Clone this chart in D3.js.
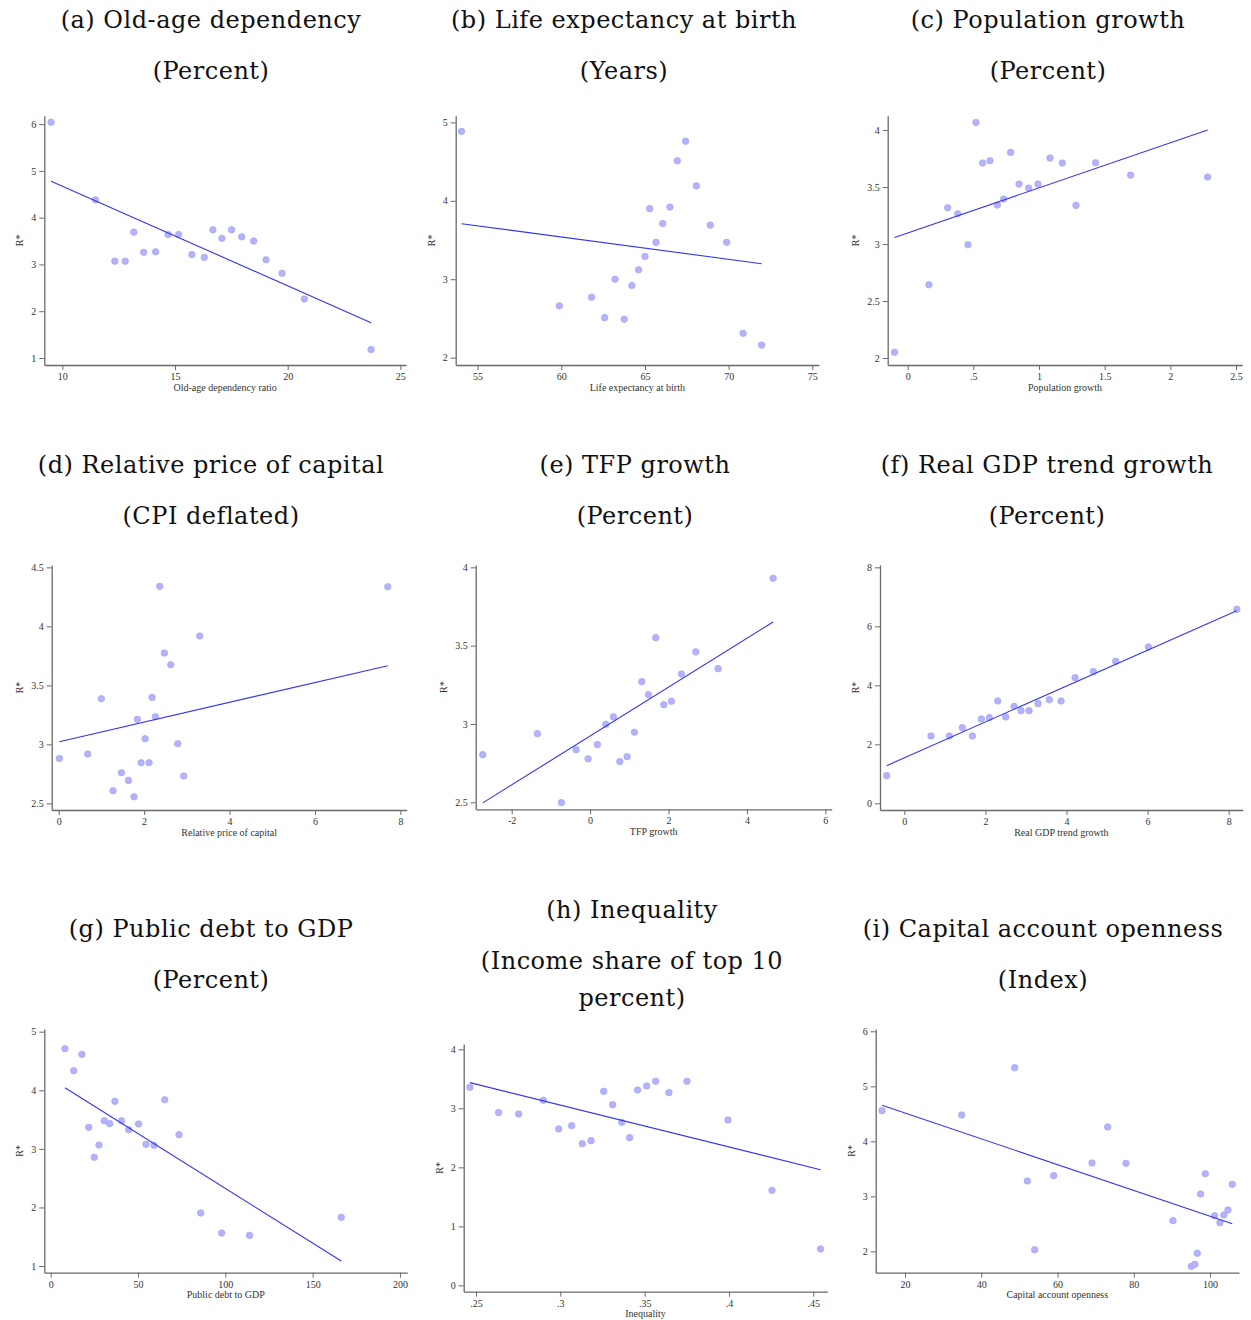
<!DOCTYPE html>
<html><head><meta charset="utf-8">
<script src="https://cdn.jsdelivr.net/npm/d3@7"></script>
<style>body{margin:0;background:#fff} svg{display:block}</style>
</head><body><svg id="chart" width="1251" height="1320"></svg>
<script>
// ---------- DATA ----------
const A_x = [9.50,11.47,12.33,12.79,13.17,13.61,14.14,14.69,15.16,15.75,16.30,16.68,17.08,17.51,17.96,18.49,19.04,19.75,20.74,23.70];
const A_y = [6.04,4.38,3.07,3.07,3.69,3.26,3.27,3.64,3.64,3.21,3.15,3.74,3.56,3.74,3.59,3.50,3.10,2.81,2.26,1.18];
const A_fit = [[9.50,4.78],[23.70,1.755]];
const A_xTicks = [10,15,20,25], A_yTicks = [1,2,3,4,5,6];
const A_xDomain = [9.2,25.25], A_yDomain = [0.85,6.18];

const B_x = [54.04,59.88,61.81,62.59,63.21,63.76,64.22,64.62,65.0,65.28,65.66,66.06,66.49,66.93,67.43,68.07,68.90,69.88,70.86,71.97];
const B_y = [4.885,2.66,2.77,2.51,3.00,2.49,2.92,3.12,3.29,3.90,3.47,3.71,3.92,4.51,4.76,4.19,3.69,3.47,2.31,2.16];
const B_fit = [[54.04,3.708],[71.97,3.198]];
const B_xTicks = [55,60,65,70,75], B_yTicks = [2,3,4,5];
const B_xDomain = [53.69,75.4], B_yDomain = [1.906,5.085];

const C_x = [-0.10,0.162,0.305,0.381,0.459,0.520,0.571,0.627,0.683,0.731,0.784,0.848,0.921,0.992,1.084,1.178,1.282,1.431,1.698,2.284];
const C_y = [2.05,2.643,3.319,3.266,2.994,4.067,3.711,3.731,3.342,3.395,3.804,3.526,3.491,3.526,3.754,3.711,3.339,3.713,3.605,3.588];
const C_fit = [[-0.10,3.058],[2.284,4.0]];
const C_xTicks = [0,0.5,1,1.5,2,2.5], C_yTicks = [2,2.5,3,3.5,4];
const C_xDomain = [-0.152,2.548], C_yDomain = [1.939,4.126];

const D_x = [0.016,0.679,0.999,1.272,1.468,1.632,1.764,1.842,1.928,2.022,2.115,2.186,2.264,2.365,2.475,2.623,2.787,2.927,3.302,7.705];
const D_y = [2.881,2.918,3.387,2.607,2.760,2.695,2.556,3.212,2.845,3.048,2.845,3.398,3.234,4.339,3.774,3.675,3.006,2.732,3.918,4.336];
const D_fit = [[0.016,3.023],[7.705,3.667]];
const D_xTicks = [0,2,4,6,8], D_yTicks = [2.5,3,3.5,4,4.5];
const D_xDomain = [-0.164,8.148], D_yDomain = [2.444,4.52];

const E_x = [-2.738,-1.344,-0.731,-0.357,-0.051,0.187,0.400,0.595,0.757,0.944,1.131,1.318,1.488,1.675,1.879,2.075,2.330,2.696,3.265,4.668];
const E_y = [2.804,2.938,2.498,2.836,2.777,2.868,2.998,3.045,2.760,2.791,2.947,3.270,3.187,3.551,3.123,3.145,3.319,3.460,3.353,3.930];
const E_fit = [[-2.738,2.496],[4.668,3.651]];
const E_xTicks = [-2,0,2,4,6], E_yTicks = [2.5,3,3.5,4];
const E_xDomain = [-2.918,6.162], E_yDomain = [2.455,4.015];

const F_x = [-0.436,0.658,1.110,1.431,1.678,1.900,2.097,2.303,2.500,2.706,2.878,3.076,3.298,3.577,3.865,4.211,4.663,5.214,6.020,8.199];
const F_y = [0.938,2.283,2.283,2.565,2.283,2.859,2.904,3.469,2.927,3.288,3.141,3.141,3.379,3.514,3.469,4.260,4.463,4.814,5.299,6.576];
const F_fit = [[-0.436,1.277],[8.199,6.531]];
const F_xTicks = [0,2,4,6,8], F_yTicks = [0,2,4,6,8];
const F_xDomain = [-0.600,8.345], F_yDomain = [-0.226,8.079];

const G_x = [8.2,13.2,17.9,21.8,25.0,27.7,30.7,33.8,36.8,40.6,44.7,50.4,54.6,59.2,65.3,73.5,85.9,97.9,113.9,166.4];
const G_y = [4.71,4.334,4.613,3.367,2.855,3.065,3.481,3.430,3.811,3.481,3.327,3.424,3.077,3.060,3.839,3.242,1.905,1.563,1.523,1.831];
const G_fit = [[8.2,4.044],[166.4,1.085]];
const G_xTicks = [0,50,100,150,200], G_yTicks = [1,2,3,4,5];
const G_xDomain = [-3.63,204.2], G_yDomain = [0.886,5.046];

const H_x = [0.2464,0.2634,0.2753,0.2899,0.2990,0.3067,0.3130,0.3182,0.3257,0.3310,0.3364,0.3411,0.3458,0.3512,0.3565,0.3644,0.3751,0.3994,0.4255,0.4543];
const H_y = [3.356,2.927,2.904,3.136,2.650,2.706,2.401,2.452,3.288,3.062,2.763,2.503,3.311,3.379,3.458,3.266,3.458,2.802,1.610,0.616];
const H_fit = [[0.2464,3.435],[0.4543,1.960]];
const H_xTicks = [0.25,0.3,0.35,0.4,0.45], H_yTicks = [0,1,2,3,4];
const H_xDomain = [0.2427,0.4583], H_yDomain = [-0.107,4.09];

const I_x = [13.97,34.86,48.76,52.08,54.00,58.99,69.04,73.15,77.95,90.28,95.09,96.05,96.66,97.53,98.76,101.2,102.6,103.65,104.70,105.84];
const I_y = [4.558,4.479,5.339,3.279,2.030,3.376,3.606,4.261,3.600,2.558,1.727,1.764,1.964,3.042,3.412,2.648,2.521,2.661,2.752,3.218];
const I_fit = [[13.97,4.655],[105.84,2.503]];
const I_xTicks = [20,40,60,80,100], I_yTicks = [2,3,4,5,6];
const I_xDomain = [12.31,107.6], I_yDomain = [1.612,6.042];

const titles = [
  ["(a) Old-age dependency","(Percent)"],
  ["(b) Life expectancy at birth","(Years)"],
  ["(c) Population growth","(Percent)"],
  ["(d) Relative price of capital","(CPI deflated)"],
  ["(e) TFP growth","(Percent)"],
  ["(f) Real GDP trend growth","(Percent)"],
  ["(g) Public debt to GDP","(Percent)"],
  ["(h) Inequality","(Income share of top 10","percent)"],
  ["(i) Capital account openness","(Index)"]
];
const xLabels = ["Old-age dependency ratio","Life expectancy at birth","Population growth",
  "Relative price of capital","TFP growth","Real GDP trend growth",
  "Public debt to GDP","Inequality","Capital account openness"];
const yLabel = "R*";

// ---------- LAYOUT ----------
const layout = [
  {box:[44.3,115.7,406,365],     tx:211,  ty:[28,79]},
  {box:[455.7,115.7,819,365],    tx:624,  ty:[28,79]},
  {box:[887.7,115.7,1242.3,365], tx:1048, ty:[28,79]},
  {box:[51.7,565,406.7,810],     tx:211,  ty:[473,524]},
  {box:[475.7,565,831.7,809.3],  tx:635,  ty:[473,524]},
  {box:[880,565,1242.7,810],     tx:1047, ty:[473,524]},
  {box:[44.3,1029,407.3,1272.7], tx:211,  ty:[937,988]},
  {box:[463.7,1044,827.3,1291.7],tx:632,  ty:[918,969,1006]},
  {box:[875.7,1029,1239,1272.7], tx:1043, ty:[937,988]}
];
const series = [
  [A_x,A_y,A_fit,A_xTicks,A_yTicks,A_xDomain,A_yDomain],
  [B_x,B_y,B_fit,B_xTicks,B_yTicks,B_xDomain,B_yDomain],
  [C_x,C_y,C_fit,C_xTicks,C_yTicks,C_xDomain,C_yDomain],
  [D_x,D_y,D_fit,D_xTicks,D_yTicks,D_xDomain,D_yDomain],
  [E_x,E_y,E_fit,E_xTicks,E_yTicks,E_xDomain,E_yDomain],
  [F_x,F_y,F_fit,F_xTicks,F_yTicks,F_xDomain,F_yDomain],
  [G_x,G_y,G_fit,G_xTicks,G_yTicks,G_xDomain,G_yDomain],
  [H_x,H_y,H_fit,H_xTicks,H_yTicks,H_xDomain,H_yDomain],
  [I_x,I_y,I_fit,I_xTicks,I_yTicks,I_xDomain,I_yDomain]
];

const svg = d3.select("#chart");
const fmt = v => { let s = String(+v.toFixed(4)); return s.replace(/^0\./,".").replace(/^-0\./,"-."); };
const tickFont = "'Liberation Serif', 'Times New Roman', serif";
const titleFont = "'DejaVu Serif', serif";
const axisColor = "#6a6a6a";

series.forEach((s,i) => {
  const [xs, ys, fit, xT, yT, xD, yD] = s;
  const L = layout[i];
  const [l,t,r,b] = L.box;
  const g = svg.append("g");

  // titles
  titles[i].forEach((line,k) => {
    g.append("text").attr("x",L.tx).attr("y",L.ty[k])
      .attr("text-anchor","middle").attr("font-family",titleFont)
      .attr("font-size",24).attr("letter-spacing","0.5px").attr("fill","#111").text(line);
  });

  const x = d3.scaleLinear().domain(xD).range([l,r]);
  const y = d3.scaleLinear().domain(yD).range([b,t]);

  const xAxis = g.append("g").attr("transform",`translate(0,${b})`)
    .call(d3.axisBottom(x).tickValues(xT).tickFormat(fmt).tickSize(5).tickPadding(3).tickSizeOuter(0));
  const yAxis = g.append("g").attr("transform",`translate(${l},0)`)
    .call(d3.axisLeft(y).tickValues(yT).tickFormat(fmt).tickSize(5).tickPadding(3).tickSizeOuter(0));
  [xAxis,yAxis].forEach(a => {
    a.select(".domain").attr("stroke",axisColor).attr("stroke-width",1.3);
    a.selectAll(".tick line").attr("stroke",axisColor).attr("stroke-width",1);
    a.selectAll(".tick text").attr("font-family",tickFont).attr("font-size",10).attr("fill","#333");
  });

  // x label
  g.append("text").attr("x",(l+r)/2).attr("y",b+25.5)
    .attr("text-anchor","middle").attr("font-family",tickFont)
    .attr("font-size",10).attr("fill","#333").text(xLabels[i]);

  // y label placed beyond the widest tick label
  let maxW = 0;
  yAxis.selectAll(".tick text").each(function(){ maxW = Math.max(maxW, this.getBBox().width); });
  const yl = l - 8 - maxW - 8;
  g.append("text").attr("transform",`translate(${yl},${(t+b)/2}) rotate(-90)`)
    .attr("text-anchor","middle").attr("font-family",tickFont)
    .attr("font-size",10).attr("fill","#333").text(yLabel);

  // points
  g.selectAll("circle").data(xs.map((v,k)=>[v,ys[k]])).enter().append("circle")
    .attr("cx",d=>x(d[0])).attr("cy",d=>y(d[1])).attr("r",3.3)
    .attr("fill","#b3b3fb").attr("stroke","#a3a3f3").attr("stroke-width",0.6);

  // fit line
  g.append("path").datum(fit)
    .attr("d", d3.line().x(d=>x(d[0])).y(d=>y(d[1])))
    .attr("fill","none").attr("stroke","#3434f5").attr("stroke-width",1.1);
});
</script></body></html>
